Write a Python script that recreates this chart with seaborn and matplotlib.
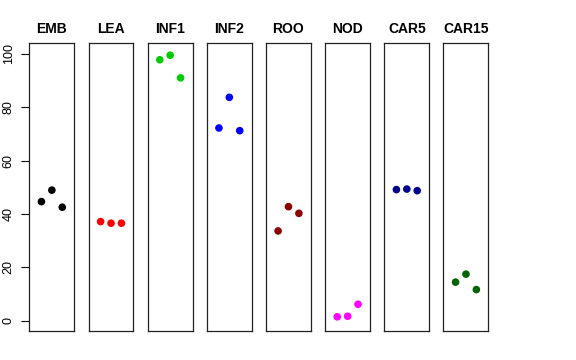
import matplotlib
matplotlib.use("Agg")
import matplotlib.pyplot as plt
import seaborn as sns
import pandas as pd

# tissues, replicate values and point colours
tissues = ["EMB", "LEA", "INF1", "INF2", "ROO", "NOD", "CAR5", "CAR15"]
replicates = [1, 2, 3]
emb = [44.6, 48.9, 42.5]
lea = [37.1, 36.5, 36.5]
inf1 = [97.8, 99.5, 91.0]
inf2 = [72.2, 83.7, 71.2]
roo = [33.6, 42.7, 40.2]
nod = [1.4, 1.6, 6.1]
car5 = [49.1, 49.3, 48.7]
car15 = [14.4, 17.4, 11.6]
colors = ["black", "#FF0000", "#00CD00", "#0000FF", "#8B0000", "#FF00FF", "#00008B", "#006400"]

values = [emb, lea, inf1, inf2, roo, nod, car5, car15]
rows = []
for t, vals in zip(tissues, values):
    for r, v in zip(replicates, vals):
        rows.append({"tissue": t, "rep": r, "value": v})
data = pd.DataFrame(rows)

sns.set_style("white")
plt.rcParams["font.family"] = ["Liberation Sans", "DejaVu Sans"]
plt.rcParams["text.color"] = "black"
plt.rcParams["ytick.color"] = "black"

fig, axes = plt.subplots(1, len(tissues), figsize=(5.76, 3.6), dpi=100, sharey=True)
fig.subplots_adjust(left=0.051, right=0.848, top=0.880, bottom=0.080, wspace=0.316)

for i, (ax, t, c) in enumerate(zip(axes, tissues, colors)):
    sub = data[data["tissue"] == t]
    sns.scatterplot(data=sub, x="rep", y="value", color=c, s=30, edgecolor="none", ax=ax, legend=False)
    ax.set_xlim(-0.16, 4.16)
    ax.set_ylim(-4, 104)
    ax.set_xticks([])
    ax.set_xlabel("")
    ax.set_ylabel("")
    ax.set_title(t, fontsize=10, fontweight="bold", pad=7, color="black")
    for s in ax.spines.values():
        s.set_visible(True)
        s.set_color("#222222")
        s.set_linewidth(0.9)
    if i == 0:
        ax.set_yticks([0, 20, 40, 60, 80, 100])
        ax.tick_params(axis="y", left=True, length=5.5, width=0.8, pad=5, labelsize=9, colors="black")
        for lab in ax.get_yticklabels():
            lab.set_rotation(90)
            lab.set_va("center")
    else:
        ax.tick_params(axis="y", left=False, labelleft=False)

fig.savefig("out.png", dpi=100)
